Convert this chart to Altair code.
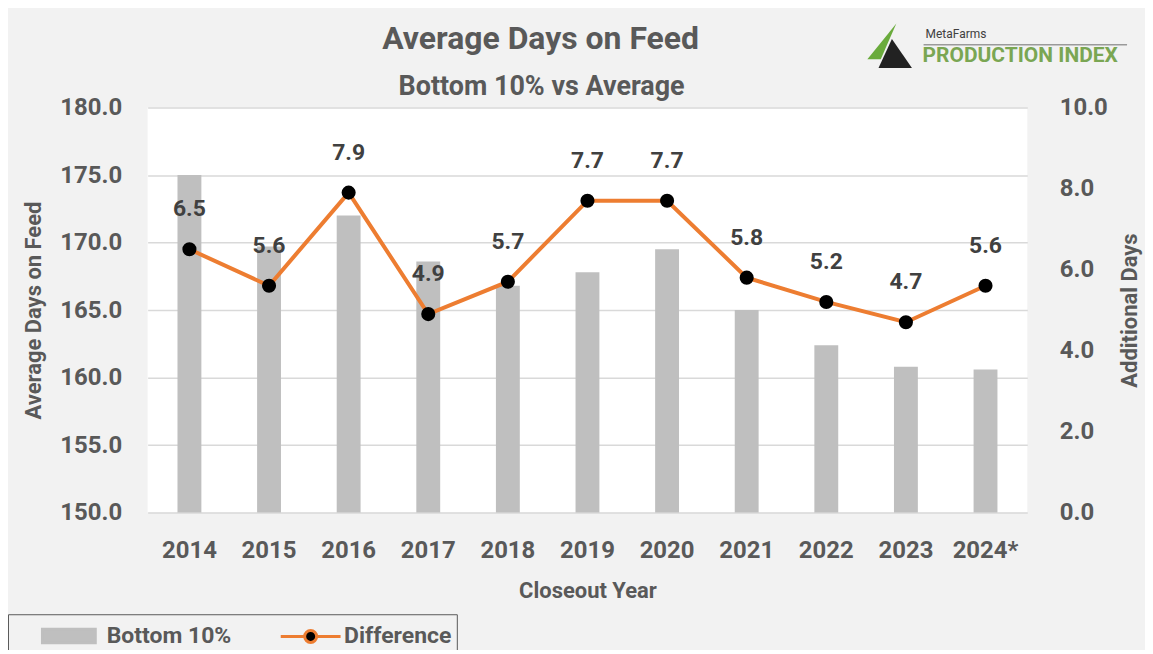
import altair as alt
import pandas as pd

years = ["2014", "2015", "2016", "2017", "2018", "2019", "2020", "2021", "2022", "2023", "2024*"]
bottom10 = [175.0, 169.7, 172.0, 168.6, 166.8, 167.8, 169.5, 165.0, 162.4, 160.8, 160.6]
difference = [6.5, 5.6, 7.9, 4.9, 5.7, 7.7, 7.7, 5.8, 5.2, 4.7, 5.6]
left_ticks = [150, 155, 160, 165, 170, 175, 180]
right_ticks = [0, 2, 4, 6, 8, 10]
series = ["Bottom 10%", "Difference"]
title_text = "Average Days on Feed"
subtitle_text = "Bottom 10% vs Average"

FONT = "Roboto"
TXT = "#595959"
GRAY = "#bfbfbf"
ORANGE = "#ED7D31"

df = pd.DataFrame({"Year": years, "Bottom": bottom10, "Difference": difference})
legend_df = pd.DataFrame({"Series": series})

xenc = alt.X(
    "Year:N", sort=years,
    scale=alt.Scale(paddingInner=0.7, paddingOuter=0.375),
    axis=alt.Axis(title="Closeout Year", labelAngle=0, labelFontSize=24, labelFont=FONT,
                  labelFontWeight="bold", labelColor=TXT, labelPadding=26,
                  titleFontSize=22, titleFont=FONT, titleFontWeight="bold", titleColor=TXT,
                  titlePadding=18, ticks=False, domain=False, grid=False),
)

bars = alt.Chart(df).mark_bar(color=GRAY).encode(
    x=xenc,
    y=alt.Y("Bottom:Q", scale=alt.Scale(domain=[150, 180], zero=False, nice=False),
            axis=alt.Axis(values=left_ticks, format=".1f", title="Average Days on Feed",
                          labelFontSize=24, labelFont=FONT, labelFontWeight="bold",
                          labelColor=TXT, labelPadding=26, titleFontSize=22, titleFont=FONT,
                          titleFontWeight="bold", titleColor=TXT, titlePadding=14,
                          grid=True, gridColor="#d9d9d9", gridWidth=1.5,
                          domain=False, ticks=False)),
    y2=alt.datum(150),
)

yr = alt.Y("Difference:Q", scale=alt.Scale(domain=[0, 10], nice=False),
           axis=alt.Axis(orient="right", values=right_ticks, format=".1f",
                         title="Additional Days", titleAngle=270,
                         labelFontSize=24, labelFont=FONT, labelFontWeight="bold",
                         labelColor=TXT, labelPadding=32, titleFontSize=22, titleFont=FONT,
                         titleFontWeight="bold", titleColor=TXT, titlePadding=34,
                         grid=False, domain=False, ticks=False))

line = alt.Chart(df).mark_line(
    color=ORANGE, strokeWidth=4,
    point=alt.OverlayMarkDef(color="black", filled=True, size=200, opacity=1),
).encode(x=xenc, y=yr)

labels = alt.Chart(df).mark_text(
    dy=-40, fontSize=23, font=FONT, fontWeight="bold", color="#404040"
).encode(x=xenc, y=yr, text=alt.Text("Difference:Q", format=".1f"))

right = alt.layer(line, labels)

bar_path = "M0.87,-0.45H4.4V0.45H0.87Z"
diff_path = ("M0.93,0L2.53,0M3.33,0L4.93,0M3.33,0A0.4,0.4,0,1,1,2.53,0"
             "A0.4,0.4,0,1,1,3.33,0Z")
leg = alt.Legend(title=None, orient="none", legendX=-140, legendY=508,
                 direction="horizontal", labelFontSize=23, labelFont=FONT,
                 labelFontWeight="bold", labelColor=TXT, symbolSize=900,
                 symbolStrokeWidth=3, symbolOpacity=1, labelOffset=61,
                 columnPadding=19, strokeColor="#595959", padding=5,
                 fillColor="#f2f2f2")
legend_layer = alt.Chart(legend_df).mark_point(filled=True, opacity=0).encode(
    x=alt.value(0), y=alt.value(0),
    fill=alt.Fill("Series:N", scale=alt.Scale(domain=series, range=[GRAY, "black"]), legend=leg),
    stroke=alt.Stroke("Series:N", scale=alt.Scale(domain=series, range=[GRAY, ORANGE]), legend=leg),
    shape=alt.Shape("Series:N", scale=alt.Scale(domain=series, range=[bar_path, diff_path]), legend=leg),
)

title_df = pd.DataFrame({"t": [title_text], "s": [subtitle_text]})
title_mark = alt.Chart(title_df).mark_text(
    align="center", baseline="alphabetic", fontSize=32, font=FONT, fontWeight="bold", color=TXT
).encode(x=alt.value(394), y=alt.value(-59), text="t:N")
subtitle_mark = alt.Chart(title_df).mark_text(
    align="center", baseline="alphabetic", fontSize=27, font=FONT, fontWeight="bold", color=TXT
).encode(x=alt.value(395), y=alt.value(-13), text="s:N")

logo_df = pd.DataFrame({"a": ["MetaFarms"], "b": ["PRODUCTION INDEX"]})
logo1 = alt.Chart(logo_df).mark_text(align="left", baseline="middle", fontSize=12,
                                      font=FONT, color="#404040").encode(
    x=alt.value(780), y=alt.value(-74), text="a:N")
logo2 = alt.Chart(logo_df).mark_text(align="left", baseline="middle", fontSize=21,
                                      font=FONT, fontWeight="bold", color="#7aa653").encode(
    x=alt.value(777), y=alt.value(-52), text="b:N")
logo_rule = alt.Chart(logo_df).mark_rule(color="#9a9a9a", strokeWidth=1.5).encode(
    x=alt.value(778), x2=alt.value(982), y=alt.value(-63))
tri_g = alt.Chart(logo_df).mark_point(filled=True, color="#6aab3c", opacity=1,
                                       shape="M0.3,-1L-1,0.6L-0.4,0.6Z", size=2000).encode(
    x=alt.value(744), y=alt.value(-62))
tri_k = alt.Chart(logo_df).mark_point(filled=True, color="#222222", opacity=1,
                                       shape="M0.1,-0.3L1,1L-0.5,1Z", size=2000).encode(
    x=alt.value(744), y=alt.value(-62))

chart = alt.layer(bars, right, legend_layer, title_mark, subtitle_mark,
                  logo_rule, logo1, logo2, tri_g, tri_k).resolve_scale(
    y="independent"
).properties(
    width=882, height=406,
    autosize=alt.AutoSizeParams(type="none"),
    padding={"left": 140, "top": 99, "right": 118, "bottom": 137},
).configure(background="#f2f2f2").configure_view(fill="white", stroke=None)

chart.save("out.html", embed_options={"renderer": "svg", "actions": False})
